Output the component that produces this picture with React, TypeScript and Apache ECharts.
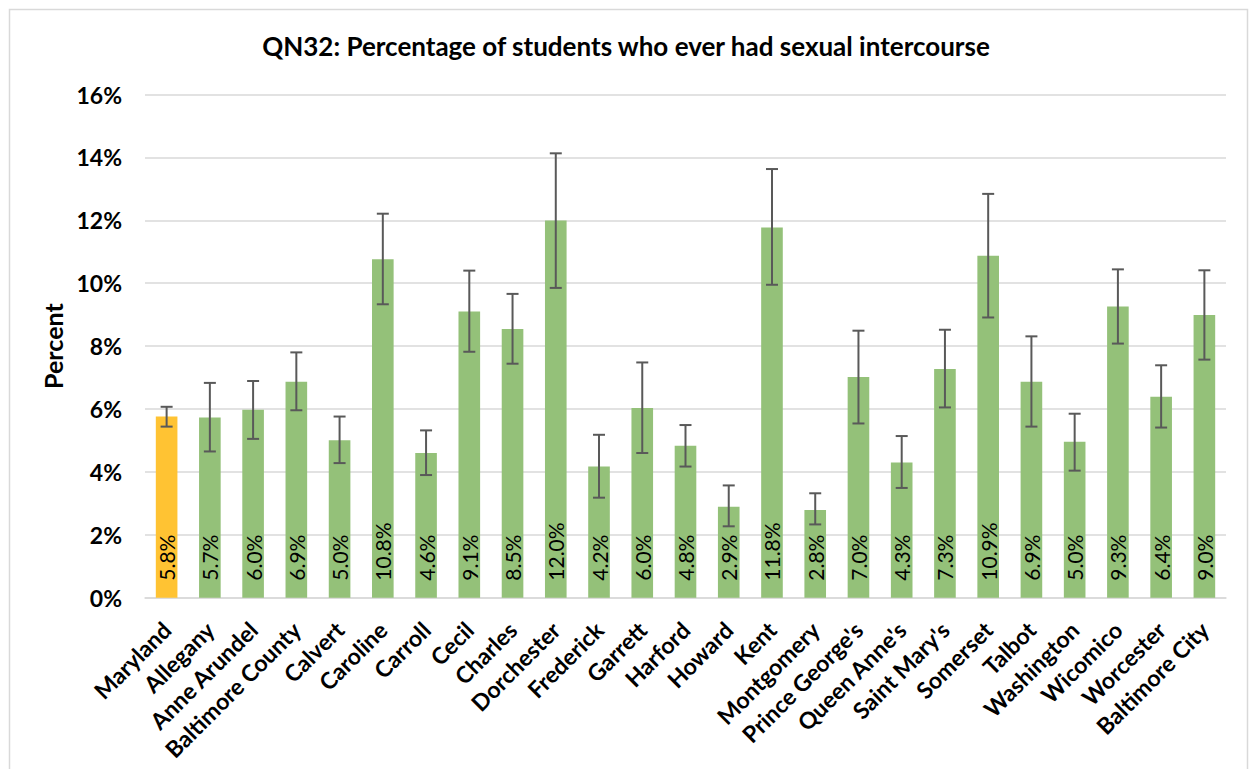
import React, { useEffect, useRef } from "react";
import * as echarts from "echarts";

const categories = [
  "Maryland", "Allegany", "Anne Arundel", "Baltimore County", "Calvert", "Caroline",
  "Carroll", "Cecil", "Charles", "Dorchester", "Frederick", "Garrett", "Harford",
  "Howard", "Kent", "Montgomery", "Prince George's", "Queen Anne's", "Saint Mary's",
  "Somerset", "Talbot", "Washington", "Wicomico", "Worcester", "Baltimore City",
];
const values = [
  5.76, 5.73, 5.98, 6.87, 5.01, 10.76, 4.6, 9.1, 8.54, 11.99, 4.17, 6.03, 4.83,
  2.89, 11.77, 2.79, 7.02, 4.3, 7.27, 10.87, 6.87, 4.96, 9.26, 6.39, 8.99,
];
const lower = [
  5.44, 4.65, 5.05, 5.96, 4.28, 9.33, 3.9, 7.82, 7.44, 9.85, 3.18, 4.6, 4.17,
  2.27, 9.95, 2.33, 5.54, 3.49, 6.05, 8.91, 5.44, 4.04, 8.08, 5.41, 7.57,
];
const upper = [
  6.07, 6.83, 6.89, 7.8, 5.76, 12.21, 5.32, 10.4, 9.66, 14.13, 5.18, 7.48, 5.49,
  3.57, 13.63, 3.32, 8.49, 5.14, 8.52, 12.84, 8.31, 5.85, 10.44, 7.39, 10.41,
];
const yTicks = { min: 0, max: 16, interval: 2 };

const FONT = "Lato, 'Open Sans', sans-serif";
const GREEN = "#94C179";
const ORANGE = "#FFC333";

export default function App() {
  const ref = useRef<HTMLDivElement>(null);
  useEffect(() => {
    if (!ref.current) return;
    const chart = echarts.init(ref.current, undefined, { renderer: "svg" });
    const errData = categories.map((_, i) => [i, lower[i], upper[i]]);
    chart.setOption({
      animation: false,
      backgroundColor: "#ffffff",
      textStyle: { fontFamily: FONT },
      title: {
        text: "QN32: Percentage of students who ever had sexual intercourse",
        left: "center",
        top: 28,
        textStyle: { fontFamily: FONT, fontWeight: "bold", fontSize: 26, color: "#000" },
      },
      graphic: [
        {
          type: "rect",
          left: 7,
          top: 7,
          shape: { width: 1238, height: 800 },
          style: { fill: "none", stroke: "#D9D9D9", lineWidth: 1.5 },
          silent: true,
        },
      ],
      grid: { left: 145, right: 26, top: 94.5, bottom: 171.3, containLabel: false },
      xAxis: {
        type: "category",
        data: categories,
        axisTick: { show: false },
        axisLine: { lineStyle: { color: "#D9D9D9", width: 1.5 } },
        axisLabel: {
          interval: 0,
          rotate: 45,
          margin: 28,
          fontFamily: FONT,
          fontWeight: "bold",
          fontSize: 23,
          color: "#000",
        },
      },
      yAxis: {
        type: "value",
        min: yTicks.min,
        max: yTicks.max,
        interval: yTicks.interval,
        name: "Percent",
        nameLocation: "middle",
        nameRotate: 90,
        nameGap: 80,
        nameTextStyle: { fontFamily: FONT, fontWeight: "bold", fontSize: 25, color: "#000" },
        axisLine: { show: false },
        axisTick: { show: false },
        splitLine: { lineStyle: { color: "#D9D9D9", width: 1.5 } },
        axisLabel: {
          formatter: "{value}%",
          margin: 23,
          fontFamily: FONT,
          fontWeight: "bold",
          fontSize: 23,
          color: "#000",
        },
      },
      series: [
        {
          type: "bar",
          data: values,
          barWidth: "50%",
          itemStyle: {
            color: (p: any) => (p.dataIndex === 0 ? ORANGE : GREEN),
          },
          label: {
            show: true,
            position: "insideBottom",
            rotate: 90,
            align: "left",
            verticalAlign: "middle",
            distance: 17,
            fontFamily: FONT,
            fontSize: 21,
            color: "#000",
            formatter: (p: any) => p.value.toFixed(1) + "%",
          },
          z: 2,
        },
        {
          type: "custom",
          data: errData,
          z: 5,
          renderItem: (params: any, api: any) => {
            const i = api.value(0);
            const lo = api.coord([i, api.value(1)]);
            const hi = api.coord([i, api.value(2)]);
            const x = lo[0];
            const hw = 6;
            const style = { stroke: "#595959", lineWidth: 2 };
            return {
              type: "group",
              children: [
                { type: "line", shape: { x1: x, y1: hi[1], x2: x, y2: lo[1] }, style },
                { type: "line", shape: { x1: x - hw, y1: hi[1], x2: x + hw, y2: hi[1] }, style },
                { type: "line", shape: { x1: x - hw, y1: lo[1], x2: x + hw, y2: lo[1] }, style },
              ],
            };
          },
          encode: { x: 0, y: [1, 2] },
        },
      ],
    });
    return () => chart.dispose();
  }, []);
  return (
    <div
      ref={ref}
      style={{ position: "absolute", left: 0, top: 0, width: 1252, height: 769 }}
    />
  );
}
